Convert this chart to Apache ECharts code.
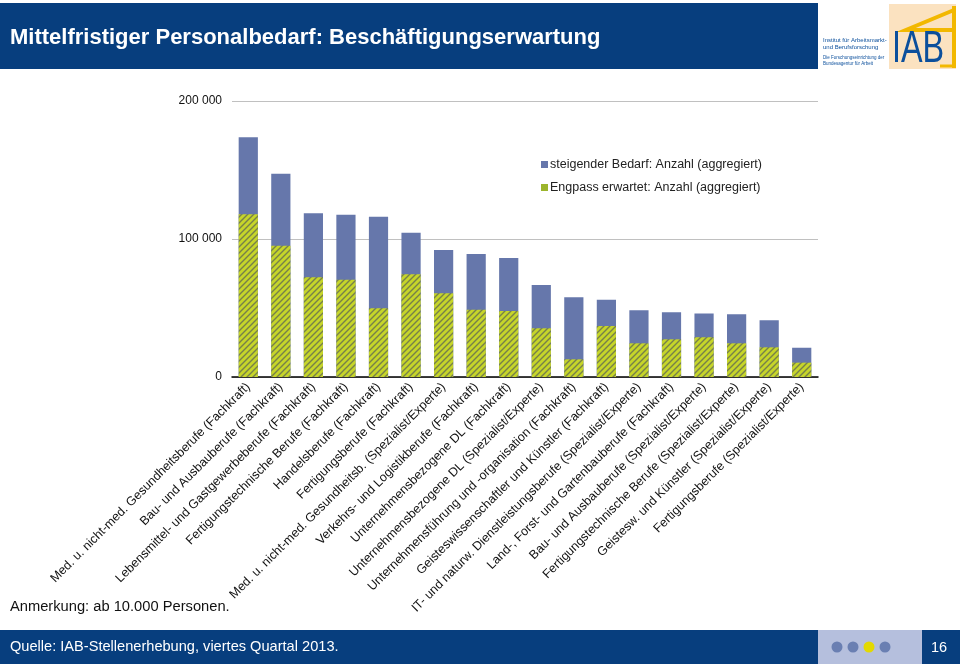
<!DOCTYPE html>
<html><head><meta charset="utf-8">
<script src="https://cdn.jsdelivr.net/npm/echarts@6/dist/echarts.min.js"></script>
<style>html,body{margin:0;padding:0;background:#fff}#c{width:960px;height:669px}</style>
</head><body><div id="c"></div>
<script>
var categories = [
  "Med. u. nicht-med. Gesundheitsberufe (Fachkraft)",
  "Bau- und Ausbauberufe (Fachkraft)",
  "Lebensmittel- und Gastgewerbeberufe (Fachkraft)",
  "Fertigungstechnische Berufe (Fachkraft)",
  "Handelsberufe (Fachkraft)",
  "Fertigungsberufe (Fachkraft)",
  "Med. u. nicht-med. Gesundheitsb. (Spezialist/Experte)",
  "Verkehrs- und Logistikberufe (Fachkraft)",
  "Unternehmensbezogene DL (Fachkraft)",
  "Unternehmensbezogene DL (Spezialist/Experte)",
  "Unternehmensführung und -organisation (Fachkraft)",
  "Geisteswissenschaftler und Künstler (Fachkraft)",
  "IT- und naturw. Dienstleistungsberufe (Spezialist/Experte)",
  "Land-, Forst- und Gartenbauberufe (Fachkraft)",
  "Bau- und Ausbauberufe (Spezialist/Experte)",
  "Fertigungstechnische Berufe (Spezialist/Experte)",
  "Geistesw. und Künstler (Spezialist/Experte)",
  "Fertigungsberufe (Spezialist/Experte)"
];
var steigenderBedarf = [173700,147300,118600,117600,116200,104600,92000,89100,86200,66700,57700,56000,48300,46900,46100,45400,41100,21200];
var engpassErwartet  = [117900,95100,72200,70500,49800,74400,60600,48800,47800,35300,12800,37000,24400,27300,28800,24400,21500,10400];
var seriesNames = ["steigender Bedarf: Anzahl (aggregiert)", "Engpass erwartet: Anzahl (aggregiert)"];
var yTicks = [0, 100000, 200000];

var FONT = "'Liberation Sans', Arial, sans-serif";
var NAVY = "#073e7e";

// hatch pattern for the green series
var pc = document.createElement('canvas');
pc.width = 6; pc.height = 6;
var g = pc.getContext('2d');
g.fillStyle = '#c6d52a'; g.fillRect(0,0,6,6);
g.strokeStyle = '#76804a'; g.lineWidth = 1.4;
g.beginPath();
g.moveTo(-1,7); g.lineTo(7,-1);
g.moveTo(-4,4); g.lineTo(4,-4);
g.moveTo(2,10); g.lineTo(10,2);
g.stroke();

var chart = echarts.init(document.getElementById('c'), null, {renderer:'canvas'});
chart.setOption({
  animation:false,
  backgroundColor:'#fff',
  textStyle:{fontFamily:FONT},
  grid:{left:232, right:142, top:101, bottom:292, containLabel:false},
  legend:{
    orient:'vertical', left:536, top:153, itemWidth:7, itemHeight:7, itemGap:10,
    icon:'rect',
    textStyle:{fontSize:12.5, color:'#222', fontFamily:FONT, padding:[0,0,0,-3]},
    data:[{name:seriesNames[0], itemStyle:{color:'#6677ab'}},{name:seriesNames[1], itemStyle:{color:'#9cb52c'}}]
  },
  xAxis:{
    type:'category', data:categories,
    axisLine:{lineStyle:{color:'#000', width:1.5}},
    axisTick:{show:false},
    axisLabel:{rotate:45, interval:0, fontSize:12.5, color:'#111', fontFamily:FONT, margin:8}
  },
  yAxis:{
    type:'value', min:yTicks[0], max:yTicks[yTicks.length-1], interval:100000,
    axisLine:{show:false}, axisTick:{show:false},
    splitLine:{lineStyle:{color:'#c0c0c0', width:1.2}},
    axisLabel:{fontSize:12, color:'#111', fontFamily:FONT, margin:10,
      formatter:function(v){return String(v).replace(/\B(?=(\d{3})+(?!\d))/g,' ');}}
  },
  series:[
    {name:seriesNames[0], type:'bar', data:steigenderBedarf, barWidth:'59%', barGap:'-100%',
     itemStyle:{color:'#6677ab'}},
    {name:seriesNames[1], type:'bar', data:engpassErwartet, barWidth:'59%', barGap:'-100%', z:3,
     itemStyle:{color:{image:pc, repeat:'repeat'}}}
  ],
  graphic:[
    {type:'rect', shape:{x:0,y:3,width:818,height:66}, style:{fill:NAVY}, silent:true},
    {type:'text', left:10, top:27, style:{text:'Mittelfristiger Personalbedarf: Beschäftigungserwartung', fill:'#fff', font:'bold 22px '+FONT}},
    // logo
    {type:'rect', shape:{x:889,y:4,width:67,height:65}, style:{fill:'#fbe2c0'}},
    {type:'polyline', shape:{points:[[954,6],[954,68]]}, style:{stroke:'#f2b800', lineWidth:4}},
    {type:'polyline', shape:{points:[[954,10],[906,30],[954,30]]}, style:{stroke:'#f2b800', lineWidth:4, fill:null}},
    {type:'polyline', shape:{points:[[940,66],[956,66]]}, style:{stroke:'#f2b800', lineWidth:3, fill:null}},
    {type:'text', x:892, y:27, scaleX:0.72, style:{text:'IAB', fill:'#0b4f9c', font:'45px '+FONT}},
    {type:'text', left:823, top:37, style:{text:'Institut für Arbeitsmarkt-\nund Berufsforschung', fill:'#0b4f9c', font:'6px '+FONT, lineHeight:7}},
    {type:'text', left:823, top:55, style:{text:'Die Forschungseinrichtung der\nBundesagentur für Arbeit', fill:'#0b4f9c', font:'4.5px '+FONT, lineHeight:6}},
    // note
    {type:'text', left:10, top:599, style:{text:'Anmerkung: ab 10.000 Personen.', fill:'#111', font:'14.7px '+FONT}},
    // footer
    {type:'rect', shape:{x:0,y:630,width:960,height:34}, style:{fill:NAVY}},
    {type:'rect', shape:{x:818,y:630,width:104,height:34}, style:{fill:'#b5bfdd'}},
    {type:'circle', shape:{cx:837,cy:647,r:5.5}, style:{fill:'#6a7fb2'}},
    {type:'circle', shape:{cx:853,cy:647,r:5.5}, style:{fill:'#6a7fb2'}},
    {type:'circle', shape:{cx:869,cy:647,r:5.5}, style:{fill:'#e3d900'}},
    {type:'circle', shape:{cx:885,cy:647,r:5.5}, style:{fill:'#6a7fb2'}},
    {type:'text', left:10, top:639, style:{text:'Quelle: IAB-Stellenerhebung, viertes Quartal 2013.', fill:'#fff', font:'14.6px '+FONT}},
    {type:'text', left:931, top:640, style:{text:'16', fill:'#fff', font:'14.5px '+FONT}}
  ]
});
</script></body></html>
